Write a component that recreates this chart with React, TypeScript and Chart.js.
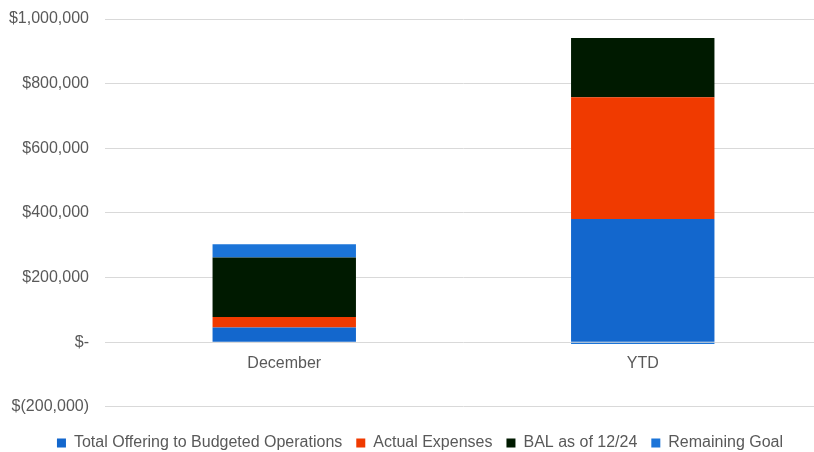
import React, { useEffect, useRef } from "react";
import { Chart, registerables } from "chart.js";

Chart.register(...registerables);

const categories = ["December", "YTD"];
const totalOffering = [45000, 381000];
const actualExpenses = [33000, 377000];
const balance = [184000, 183000];
const remainingGoal = [41000, -6000];
const seriesNames = [
  "Total Offering to Budgeted Operations",
  "Actual Expenses",
  "BAL as of 12/24",
  "Remaining Goal",
];
const yMin = -200000;
const yMax = 1000000;
const yStep = 200000;

const FONT = "'Liberation Sans', Arial, sans-serif";

function fmt(v: number): string {
  if (v === 0) return "$-";
  const s = Math.abs(v).toLocaleString("en-US");
  return v < 0 ? `$(${s})` : `$${s}`;
}

const legendShift = {
  id: "legendShift",
  afterLayout(chart: any) {
    const l = chart.legend;
    if (l) {
      l.left += 9;
      l.right += 9;
    }
  },
};

export default function App() {
  const ref = useRef<HTMLCanvasElement | null>(null);
  useEffect(() => {
    if (!ref.current) return;
    const chart = new Chart(ref.current, {
      type: "bar",
      data: {
        labels: categories,
        datasets: [
          { label: seriesNames[0], data: totalOffering, backgroundColor: "#1367CD" },
          { label: seriesNames[1], data: actualExpenses, backgroundColor: "#F03A00" },
          { label: seriesNames[2], data: balance, backgroundColor: "#001A00" },
          { label: seriesNames[3], data: remainingGoal, backgroundColor: "#1B74D8" },
        ],
      },
      plugins: [legendShift],
      options: {
        animation: false,
        responsive: true,
        maintainAspectRatio: false,
        layout: { padding: { top: 19, bottom: -9, left: 0, right: 0 } },
        datasets: { bar: { categoryPercentage: 0.8, barPercentage: 0.5 } },
        scales: {
          x: {
            stacked: true,
            position: { y: 0 } as any,
            grid: { display: false },
            border: { display: false },
            ticks: { color: "#595959", font: { family: FONT, size: 16 }, padding: 4 },
          },
          y: {
            stacked: true,
            min: yMin,
            max: yMax,
            grid: { color: "#D9D9D9", drawTicks: false, lineWidth: 1 },
            border: { display: false },
            ticks: {
              stepSize: yStep,
              color: "#595959",
              font: { family: FONT, size: 16 },
              padding: 16,
              callback: (v: any) => fmt(Number(v)),
            },
            afterFit: (scale: any) => {
              scale.width = 105;
              scale.paddingTop = 0;
              scale.paddingBottom = 0;
            },
          },
        },
        plugins: {
          tooltip: { enabled: false },
          legend: {
            position: "bottom",
            title: { display: true, text: "", font: { size: 1 }, padding: { top: 13, bottom: 0 } },
            labels: {
              color: "#595959",
              font: { family: FONT, size: 16 },
              boxWidth: 9,
              boxHeight: 9,
              padding: 14,
            },
          },
        },
      },
    });
    return () => chart.destroy();
  }, []);
  return (
    <div style={{ position: "fixed", left: 0, top: 0, width: 814, height: 452, overflow: "hidden", background: "#fff" }}>
      <div style={{ position: "relative", width: 822, height: 452 }}>
        <canvas ref={ref} />
      </div>
    </div>
  );
}
